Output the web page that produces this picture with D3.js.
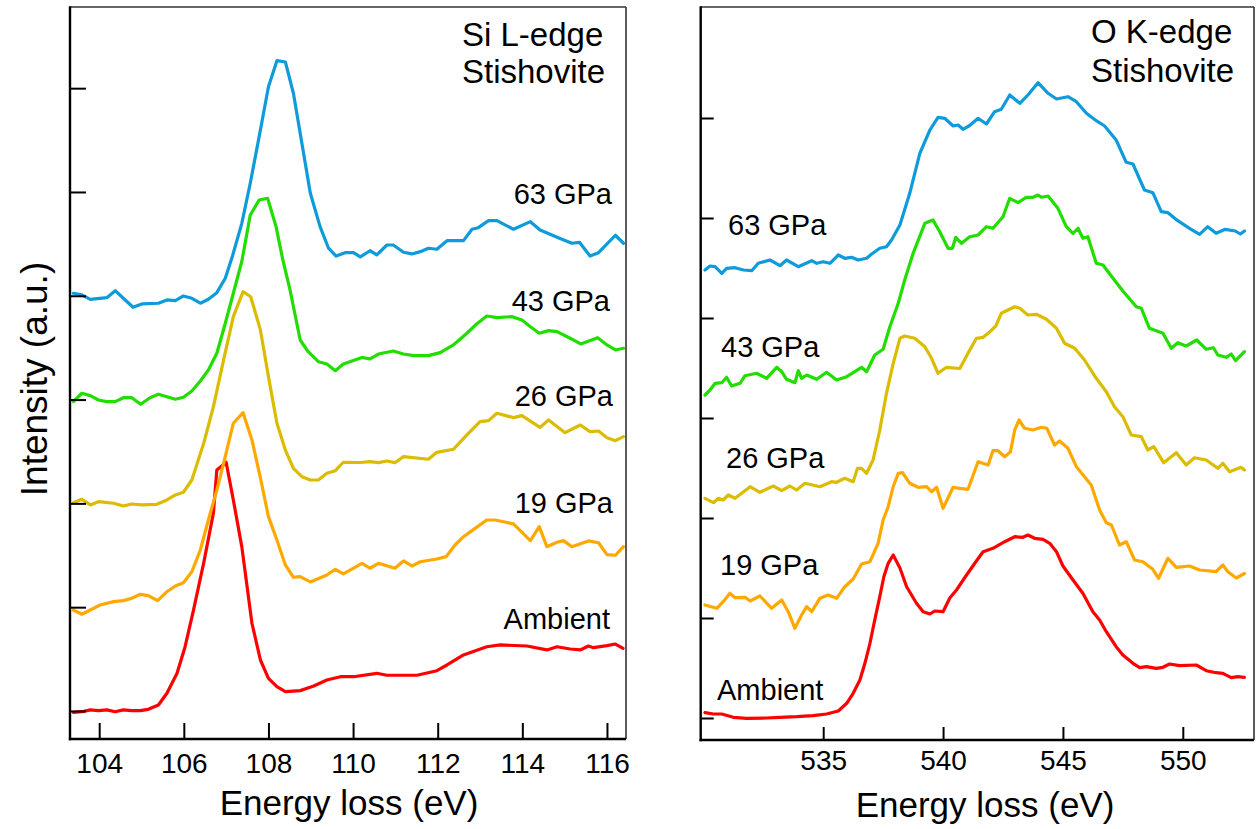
<!DOCTYPE html>
<html>
<head>
<meta charset="utf-8">
<script src="https://cdn.jsdelivr.net/npm/d3@7"></script>
<style>
  html, body { margin: 0; padding: 0; background: #fff; }
  svg { display: block; font-family: "Liberation Sans", Arial, sans-serif; }
</style>
</head>
<body>
<svg id="chart" width="1256" height="829"></svg>
<script>
// ---- Data: EELS spectra of stishovite, [energy loss (eV), intensity (a.u.)] ----
// Intensities are relative to each spectrum's own stacking offset.
const pressures = ["Ambient", "19 GPa", "26 GPa", "43 GPa", "63 GPa"];
const stackOffsets = [0, 1, 2, 3, 4];
const seriesColors = ["#ff0000", "#ffa800", "#dcbc00", "#22dd00", "#0d9bdb"];

// Si L-edge
const siAmbient = [[103.39,-0.013],[103.59,-0.007],[103.79,0.010],[103.98,0.003],[104.18,0.010],[104.38,-0.007],[104.57,0.010],[104.77,0.003],[104.97,0.003],[105.16,0.016],[105.40,0.058],[105.60,0.171],[105.84,0.363],[106.03,0.619],[106.23,0.973],[106.47,1.426],[106.70,1.908],[106.78,2.322],[107.00,2.396],[107.17,2.033],[107.37,1.583],[107.61,0.845],[107.81,0.491],[108.00,0.315],[108.20,0.234],[108.40,0.186],[108.75,0.196],[109.07,0.241],[109.38,0.299],[109.70,0.330],[110.01,0.330],[110.56,0.363],[110.80,0.344],[111.51,0.344],[111.98,0.388],[112.22,0.443],[112.61,0.540],[113.16,0.619],[113.48,0.636],[114.11,0.626],[114.58,0.588],[114.82,0.619],[115.13,0.597],[115.37,0.588],[115.56,0.626],[115.68,0.610],[116.00,0.629],[116.20,0.645],[116.38,0.604]];
const si19 = [[103.39,-0.027],[103.59,-0.068],[103.79,-0.027],[104.02,0.021],[104.34,0.053],[104.57,0.063],[104.77,0.086],[104.97,0.124],[105.16,0.111],[105.38,0.063],[105.60,0.149],[105.80,0.204],[105.99,0.236],[106.19,0.342],[106.39,0.551],[106.58,0.840],[106.78,1.129],[106.94,1.386],[107.17,1.772],[107.40,1.874],[107.61,1.611],[107.81,1.245],[108.00,0.872],[108.20,0.647],[108.40,0.407],[108.59,0.288],[108.75,0.294],[108.99,0.243],[109.38,0.310],[109.58,0.365],[109.77,0.320],[110.21,0.423],[110.40,0.375],[110.60,0.423],[110.99,0.375],[111.19,0.445],[111.39,0.397],[111.59,0.438],[111.98,0.464],[112.20,0.487],[112.41,0.599],[112.61,0.679],[112.81,0.737],[113.16,0.840],[113.36,0.840],[113.79,0.802],[114.19,0.641],[114.40,0.776],[114.58,0.583],[114.82,0.625],[114.97,0.641],[115.17,0.583],[115.56,0.638],[115.80,0.621],[116.00,0.506],[116.20,0.500],[116.39,0.583]];
const si26 = [[103.39,0.007],[103.59,0.039],[103.79,-0.015],[103.98,0.016],[104.34,0.001],[104.57,-0.025],[104.77,-0.006],[105.01,-0.015],[105.36,-0.009],[105.60,0.033],[105.80,0.081],[105.99,0.107],[106.19,0.225],[106.47,0.579],[106.70,0.932],[106.94,1.382],[107.17,1.799],[107.40,2.040],[107.58,1.991],[107.81,1.671],[108.00,1.221],[108.20,0.772],[108.40,0.514],[108.59,0.338],[108.79,0.257],[108.99,0.225],[109.18,0.225],[109.38,0.290],[109.58,0.315],[109.77,0.396],[110.17,0.394],[110.40,0.402],[110.60,0.392],[110.80,0.408],[110.99,0.392],[111.19,0.450],[111.78,0.425],[111.98,0.492],[112.37,0.521],[112.69,0.659],[113.00,0.787],[113.20,0.797],[113.40,0.868],[113.79,0.826],[113.99,0.845],[114.42,0.733],[114.62,0.803],[115.01,0.681],[115.37,0.755],[115.60,0.691],[115.80,0.697],[116.00,0.633],[116.20,0.604],[116.39,0.643]];
const si43 = [[103.39,-0.020],[103.59,0.061],[103.79,0.038],[103.98,-0.004],[104.18,-0.020],[104.38,-0.020],[104.57,0.018],[104.77,0.018],[104.98,-0.045],[105.20,0.018],[105.40,0.051],[105.60,0.028],[105.80,0.003],[105.99,0.022],[106.19,0.083],[106.39,0.179],[106.58,0.285],[106.78,0.446],[106.98,0.735],[107.17,1.024],[107.37,1.330],[107.57,1.778],[107.78,1.923],[107.98,1.939],[108.18,1.666],[108.34,1.345],[108.51,1.056],[108.75,0.574],[108.94,0.461],[109.18,0.365],[109.38,0.343],[109.58,0.278],[109.77,0.343],[110.21,0.406],[110.40,0.391],[110.60,0.439],[110.95,0.468],[111.19,0.439],[111.43,0.423],[111.78,0.423],[112.06,0.452],[112.37,0.526],[112.69,0.639],[112.92,0.728],[113.16,0.805],[113.40,0.789],[113.75,0.799],[113.99,0.767],[114.19,0.702],[114.40,0.639],[114.62,0.664],[114.82,0.654],[115.13,0.591],[115.38,0.536],[115.78,0.596],[116.00,0.526],[116.20,0.478],[116.39,0.494]];
const si63 = [[103.39,0.024],[103.59,0.008],[103.79,-0.034],[104.18,-0.018],[104.38,0.049],[104.57,-0.024],[104.80,-0.111],[105.01,-0.079],[105.40,-0.072],[105.60,-0.040],[105.80,-0.047],[105.99,-0.002],[106.19,-0.024],[106.39,-0.072],[106.58,-0.034],[106.78,0.030],[106.98,0.169],[107.15,0.383],[107.37,0.698],[107.57,1.084],[107.81,1.597],[108.00,2.014],[108.20,2.265],[108.40,2.252],[108.59,1.951],[108.79,1.469],[108.99,0.987],[109.22,0.666],[109.42,0.458],[109.60,0.383],[109.81,0.415],[110.01,0.415],[110.17,0.374],[110.40,0.434],[110.56,0.393],[110.80,0.489],[110.95,0.489],[111.19,0.419],[111.39,0.403],[111.59,0.425],[111.78,0.458],[111.98,0.448],[112.22,0.531],[112.61,0.531],[112.81,0.641],[112.96,0.656],[113.20,0.724],[113.40,0.724],[113.79,0.641],[114.19,0.714],[114.42,0.634],[114.82,0.564],[115.17,0.506],[115.35,0.515],[115.60,0.383],[115.80,0.415],[116.20,0.583],[116.39,0.506]];

// O K-edge
const oAmbient = [[530.07,0.053],[530.42,0.04],[530.77,0.04],[531.25,0.007],[531.81,-0.003],[532.64,0],[533.20,0.007],[533.89,0.013],[534.58,0.023],[535.14,0.04],[535.63,0.07],[535.98,0.147],[536.25,0.247],[536.53,0.38],[536.74,0.547],[536.95,0.747],[537.15,0.98],[537.36,1.213],[537.53,1.413],[537.71,1.547],[537.92,1.63],[538.20,1.50],[538.48,1.313],[538.89,1.147],[539.17,1.063],[539.45,1.04],[539.65,1.07],[540.00,1.063],[540.28,1.20],[540.56,1.28],[540.98,1.43],[541.39,1.57],[541.67,1.663],[542.08,1.697],[542.57,1.763],[542.99,1.813],[543.33,1.807],[543.54,1.83],[543.82,1.797],[544.17,1.787],[544.45,1.747],[544.73,1.663],[545.00,1.52],[545.42,1.38],[545.83,1.247],[546.25,1.063],[546.53,0.98],[546.81,0.863],[547.22,0.713],[547.50,0.63],[547.92,0.547],[548.20,0.503],[548.48,0.513],[548.89,0.497],[549.17,0.507],[549.45,0.54],[549.86,0.523],[550.56,0.53],[550.98,0.473],[551.39,0.453],[551.67,0.447],[552.02,0.403],[552.29,0.413],[552.57,0.407]];
const o19 = [[530.07,0.13],[530.56,0.097],[530.83,0.163],[531.11,0.247],[531.32,0.203],[531.74,0.207],[531.95,0.17],[532.36,0.22],[532.85,0.097],[533.27,0.18],[533.54,0.063],[533.82,-0.103],[534.10,0.03],[534.31,0.113],[534.52,0.063],[534.86,0.197],[535.21,0.23],[535.56,0.197],[535.90,0.313],[536.25,0.39],[536.60,0.54],[536.95,0.563],[537.29,0.747],[537.50,0.98],[537.71,1.113],[537.92,1.313],[538.13,1.447],[538.31,1.453],[538.61,1.347],[538.96,1.307],[539.31,1.313],[539.52,1.263],[539.73,1.307],[540.00,1.097],[540.42,1.307],[540.70,1.297],[541.04,1.287],[541.46,1.563],[541.88,1.53],[542.08,1.673],[542.29,1.673],[542.57,1.613],[542.81,1.663],[542.99,1.88],[543.17,1.98],[543.40,1.897],[543.75,1.88],[544.10,1.907],[544.33,1.897],[544.65,1.73],[544.86,1.77],[545.21,1.697],[545.56,1.513],[545.90,1.413],[546.18,1.33],[546.53,1.08],[546.81,0.953],[547.02,0.93],[547.36,0.73],[547.64,0.763],[547.99,0.58],[548.33,0.563],[548.75,0.487],[548.99,0.397],[549.38,0.597],[549.73,0.507],[550.28,0.52],[550.70,0.48],[551.39,0.463],[551.67,0.53],[551.88,0.463],[552.23,0.40],[552.57,0.445]];
const o26 = [[530.07,0.197],[530.42,0.153],[530.63,0.197],[530.83,0.18],[531.04,0.23],[531.32,0.197],[531.60,0.247],[531.95,0.313],[532.36,0.257],[532.92,0.32],[533.27,0.273],[533.61,0.32],[533.89,0.28],[534.24,0.347],[534.86,0.313],[535.35,0.363],[535.56,0.357],[535.90,0.397],[536.25,0.363],[536.43,0.497],[536.60,0.497],[536.81,0.447],[537.08,0.58],[537.36,0.88],[537.64,1.247],[537.92,1.547],[538.20,1.797],[538.40,1.82],[538.82,1.797],[539.24,1.713],[539.52,1.597],[539.79,1.447],[540.14,1.507],[540.70,1.495],[541.04,1.647],[541.39,1.797],[541.67,1.807],[541.88,1.847],[542.20,1.92],[542.43,2.047],[542.99,2.113],[543.20,2.097],[543.54,2.03],[543.89,2.037],[544.31,1.987],[544.73,1.897],[545.07,1.747],[545.49,1.697],[545.90,1.58],[546.39,1.397],[546.81,1.263],[547.15,1.113],[547.50,1.013],[547.85,0.83],[548.27,0.813],[548.54,0.68],[548.79,0.713],[549.20,0.553],[549.73,0.653],[550.14,0.53],[550.49,0.603],[550.98,0.58],[551.46,0.497],[551.67,0.547],[551.95,0.463],[552.43,0.507],[552.57,0.48]];
const o43 = [[530.07,0.23],[530.28,0.28],[530.49,0.347],[530.77,0.353],[530.97,0.407],[531.18,0.32],[531.53,0.347],[531.74,0.423],[532.22,0.447],[532.64,0.397],[533.06,0.507],[533.27,0.463],[533.47,0.387],[533.82,0.353],[533.96,0.473],[534.10,0.397],[534.31,0.43],[534.73,0.387],[535.14,0.457],[535.56,0.38],[535.98,0.413],[536.25,0.453],[536.60,0.507],[536.81,0.463],[537.15,0.63],[537.50,0.687],[537.78,0.913],[538.13,1.147],[538.40,1.38],[538.75,1.647],[539.24,1.947],[539.58,1.98],[539.86,1.863],[540.21,1.697],[540.39,1.697],[540.53,1.807],[540.77,1.747],[541.11,1.813],[541.46,1.83],[541.81,1.913],[542.08,1.897],[542.50,2.013],[542.78,2.197],[543.13,2.153],[543.47,2.207],[543.75,2.207],[543.96,2.23],[544.10,2.207],[544.38,2.22],[544.79,2.097],[545.14,1.913],[545.42,1.847],[545.63,1.897],[545.83,1.797],[546.04,1.813],[546.39,1.547],[546.67,1.53],[547.08,1.40],[547.50,1.27],[548.06,1.113],[548.27,1.097],[548.61,0.897],[549.17,0.847],[549.52,0.697],[549.79,0.753],[550.14,0.72],[550.58,0.78],[550.98,0.687],[551.28,0.703],[551.46,0.63],[551.81,0.607],[552.02,0.64],[552.20,0.573],[552.57,0.663]];
const o63 = [[530.07,0.48],[530.28,0.52],[530.49,0.513],[530.77,0.447],[530.97,0.497],[531.32,0.503],[531.67,0.48],[532.02,0.473],[532.29,0.547],[532.78,0.58],[533.20,0.523],[533.47,0.58],[533.96,0.513],[534.52,0.573],[534.73,0.547],[535.00,0.563],[535.28,0.547],[535.63,0.63],[535.90,0.597],[536.18,0.607],[536.46,0.58],[536.81,0.597],[537.02,0.64],[537.36,0.697],[537.64,0.713],[537.85,0.78],[538.20,0.93],[538.61,1.247],[539.03,1.647],[539.45,1.88],[539.79,2.007],[540.07,1.997],[540.42,1.92],[540.63,1.93],[540.83,1.887],[541.11,1.925],[541.46,1.997],[541.81,1.94],[542.15,2.063],[542.43,2.087],[542.78,2.23],[543.20,2.147],[543.54,2.23],[543.96,2.353],[544.38,2.247],[544.73,2.19],[545.21,2.213],[545.56,2.163],[545.98,2.047],[546.39,1.973],[546.74,1.92],[547.22,1.78],[547.64,1.557],[547.92,1.54],[548.40,1.28],[548.75,1.253],[549.10,1.063],[549.38,1.053],[549.79,0.973],[550.28,0.897],[550.70,0.837],[551.04,0.913],[551.39,0.847],[551.77,0.887],[552.19,0.87],[552.40,0.84],[552.57,0.87]];

const siSeries = [siAmbient, si19, si26, si43, si63];
const oSeries = [oAmbient, o19, o26, o43, o63];

const siTicks = [104, 106, 108, 110, 112, 114, 116];
const oTicks = [535, 540, 545, 550];
const intensityTicks = [0, 1, 2, 3, 4, 5, 6];

// ---- Layout ----
const svg = d3.select("#chart");
const FONT = '"Liberation Sans", Arial, sans-serif';

const panels = [
  {
    series: siSeries, xTicks: siTicks,
    x: d3.scaleLinear().domain([103.31, 116.45]).range([70, 626]),
    y: d3.scaleLinear().domain([-0.27, 6.782]).range([739, 7]),
    tickLen: 16, tickLabelY: 773, titleX: 349, titleY: 815,
    heading: ["Si L-edge", "Stishovite"], headingX: 462, headingY: [46, 83],
    labelAnchor: "end",
    labelPos: [[610, 629], [613, 513], [613, 406], [610, 311], [612, 204]]
  },
  {
    series: oSeries, xTicks: oTicks,
    x: d3.scaleLinear().domain([529.89, 552.97]).range([700.7, 1254]),
    y: d3.scaleLinear().domain([-0.22, 7.11]).range([740, 7]),
    tickLen: 13, tickLabelY: 770, titleX: 985, titleY: 817,
    heading: ["O K-edge", "Stishovite"], headingX: 1091, headingY: [43, 82],
    labelAnchor: "start",
    labelPos: [[717, 700], [720, 575], [726, 468], [721, 357], [728, 235]]
  }
];

panels.forEach((p, pi) => {
  const g = svg.append("g");
  const [x0, x1] = p.x.range();
  const [yb, yt] = p.y.range();

  // clip spectra to the plot frame
  const clipId = "clip" + pi;
  svg.append("clipPath").attr("id", clipId)
    .append("rect").attr("x", x0).attr("y", yt).attr("width", x1 - x0).attr("height", yb - yt);

  // spectra
  const line = d3.line()
    .x(d => p.x(d[0]))
    .y(d => p.y(d[1]));
  const lines = g.append("g").attr("clip-path", `url(#${clipId})`);
  p.series.forEach((s, i) => {
    const off = stackOffsets[i];
    lines.append("path")
      .datum(s.map(d => [d[0], d[1] + off]))
      .attr("d", line)
      .attr("fill", "none")
      .attr("stroke", seriesColors[i])
      .attr("stroke-width", 3.2)
      .attr("stroke-linejoin", "round")
      .attr("stroke-linecap", "round");
  });

  // frame: top/right thinner, axes heavier
  g.append("line").attr("x1", x0).attr("x2", x1).attr("y1", yt).attr("y2", yt)
    .attr("stroke", "#333").attr("stroke-width", 1.6);
  g.append("line").attr("x1", x1).attr("x2", x1).attr("y1", yt).attr("y2", yb)
    .attr("stroke", "#333").attr("stroke-width", 1.6);

  // bottom axis, ticks pointing inward
  const xAxis = g.append("g").attr("transform", `translate(0,${yb})`)
    .call(d3.axisBottom(p.x).tickValues(p.xTicks).tickSize(-p.tickLen).tickSizeOuter(0).tickFormat(d3.format("d")));
  xAxis.select(".domain").remove();
  xAxis.selectAll(".tick line").attr("stroke", "#000").attr("stroke-width", 2);
  xAxis.selectAll(".tick text")
    .attr("y", p.tickLabelY - yb).attr("dy", null)
    .attr("fill", "#000").style("font-family", FONT).style("font-size", "28px");

  // left axis, unlabeled inward ticks
  const yAxis = g.append("g").attr("transform", `translate(${x0},0)`)
    .call(d3.axisLeft(p.y).tickValues(intensityTicks).tickSize(-p.tickLen).tickSizeOuter(0).tickFormat(""));
  yAxis.select(".domain").remove();
  yAxis.selectAll(".tick line").attr("stroke", "#000").attr("stroke-width", 2);

  g.append("line").attr("x1", x0).attr("x2", x0).attr("y1", yt - 0.8).attr("y2", yb + 1.2)
    .attr("stroke", "#000").attr("stroke-width", 2.4);
  g.append("line").attr("x1", x0 - 1.2).attr("x2", x1).attr("y1", yb).attr("y2", yb)
    .attr("stroke", "#000").attr("stroke-width", 2.4);

  // axis title
  g.append("text").attr("x", p.titleX).attr("y", p.titleY)
    .attr("text-anchor", "middle").style("font-family", FONT).style("font-size", "35px")
    .text("Energy loss (eV)");

  // panel heading
  p.heading.forEach((t, k) => {
    g.append("text").attr("x", p.headingX).attr("y", p.headingY[k])
      .style("font-family", FONT).style("font-size", "33px").text(t);
  });

  // spectrum labels
  pressures.forEach((name, i) => {
    g.append("text").attr("x", p.labelPos[i][0]).attr("y", p.labelPos[i][1])
      .attr("text-anchor", p.labelAnchor)
      .style("font-family", FONT).style("font-size", "29px").text(name);
  });
});

// shared intensity title
svg.append("text")
  .attr("transform", "translate(47,379) rotate(-90)")
  .attr("text-anchor", "middle")
  .style("font-family", FONT).style("font-size", "37px")
  .text("Intensity (a.u.)");
</script>
</body>
</html>
